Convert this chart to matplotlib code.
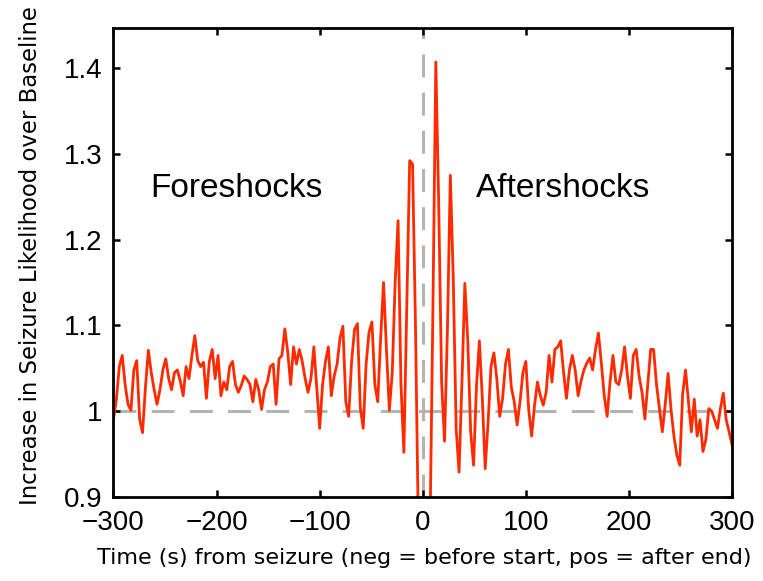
import numpy as np
import matplotlib
matplotlib.use("Agg")
import matplotlib.pyplot as plt

# Seizure likelihood relative to baseline, ~2.8 s bins from -300 s to +300 s
likelihood = [
    0.991, 1.014, 1.052, 1.065, 1.031, 1.008, 1.001, 1.048, 1.059, 0.991,
    0.975, 1.028, 1.071, 1.045, 1.025, 1.008, 1.025, 1.048, 1.061, 1.038,
    1.025, 1.045, 1.048, 1.035, 1.018, 1.052, 1.038, 1.065, 1.088, 1.059,
    1.052, 1.057, 1.015, 1.058, 1.072, 1.038, 1.065, 1.018, 1.034, 1.025,
    1.052, 1.058, 1.031, 1.022, 1.030, 1.041, 1.037, 1.031, 1.011, 1.037,
    1.025, 1.002, 1.025, 1.034, 1.052, 1.055, 1.008, 1.061, 1.065, 1.096,
    1.069, 1.031, 1.075, 1.055, 1.072, 1.058, 1.038, 1.022, 1.038, 1.075,
    1.028, 0.980, 1.031, 1.058, 1.075, 1.018, 1.041, 1.055, 1.085, 1.099,
    1.011, 0.994, 1.058, 1.095, 1.102, 1.004, 0.980, 1.055, 1.092, 1.104,
    1.031, 1.011, 1.085, 1.150, 1.072, 1.001, 1.045, 1.150, 1.222, 1.031,
    0.952, 1.120, 1.292, 1.288, 1.099, 0.860, 0.820, 0.800, 0.820, 0.860,
    1.119, 1.407, 1.241, 1.034, 0.965, 1.095, 1.275, 1.156, 0.980, 0.929,
    1.034, 1.149, 1.082, 0.976, 0.937, 1.029, 1.082, 1.016, 0.933, 0.987,
    1.052, 1.068, 1.038, 0.994, 1.015, 1.055, 1.072, 1.028, 1.011, 0.984,
    1.011, 1.045, 1.058, 1.001, 0.971, 1.007, 1.034, 1.018, 1.007, 1.022,
    1.065, 1.034, 1.072, 1.075, 1.082, 1.045, 1.015, 1.048, 1.065, 1.048,
    1.018, 1.035, 1.048, 1.056, 1.062, 1.048, 1.072, 1.091, 1.056, 1.018,
    0.994, 1.034, 1.065, 1.034, 1.031, 1.048, 1.075, 1.041, 1.015, 1.065,
    1.072, 1.041, 1.022, 0.991, 1.031, 1.072, 1.072, 1.031, 1.004, 0.976,
    1.008, 1.044, 1.002, 0.971, 0.949, 0.937, 1.020, 1.048, 1.011, 0.976,
    1.014, 0.971, 0.990, 0.953, 0.967, 1.003, 1.000, 0.990, 0.980, 1.003,
    1.021, 0.990, 0.976, 0.961,
]
time_s = np.linspace(-300, 300, len(likelihood))

x_ticks = [-300, -200, -100, 0, 100, 200, 300]
y_ticks = [0.9, 1.0, 1.1, 1.2, 1.3, 1.4]
y_tick_labels = ["0.9", "1", "1.1", "1.2", "1.3", "1.4"]
baseline = 1.0
seizure_time = 0.0

W, H = 763, 581
fig = plt.figure(figsize=(W / 100, H / 100), dpi=100)
ax = fig.add_axes([113.5 / W, 1 - 497 / H, (732 - 113.5) / W, (497 - 28) / H])

grey = "#b4b4b4"
ax.axhline(baseline, color=grey, lw=2.2, dashes=(7.5, 5), zorder=1)
ax.axvline(seizure_time, color=grey, lw=2.2, dashes=(7.5, 5), zorder=1)
ax.plot(time_s, likelihood, color="#ff2a00", lw=2.0, zorder=2)

ax.set_xlim(-300, 300)
ax.set_ylim(0.9, 1.4466)
ax.set_xticks(x_ticks)
ax.set_xticklabels([f"{v:d}".replace("-", "\u2212") for v in x_ticks])
ax.set_yticks(y_ticks)
ax.set_yticklabels(y_tick_labels)

tick_font = "Liberation Sans"
for lab in ax.get_xticklabels() + ax.get_yticklabels():
    lab.set_fontfamily(tick_font)
    lab.set_fontsize(20)
ax.tick_params(direction="in", length=5, width=1.8, top=True, right=True)
ax.tick_params(axis="x", pad=9)
ax.tick_params(axis="y", pad=8)
for s in ax.spines.values():
    s.set_linewidth(2.0)

ax.text(-264.5, 1.259, "Foreshocks", fontsize=24, family=tick_font,
        ha="left", va="center")
ax.text(51.5, 1.259, "Aftershocks", fontsize=24, family=tick_font,
        ha="left", va="center")

fig.text(424 / W, 1 - 558 / H,
         "Time (s) from seizure (neg = before start, pos = after end)",
         fontsize=16.0, family="DejaVu Sans", ha="center", va="center")
fig.text(31 / W, 1 - 256 / H,
         "Increase in Seizure Likelihood over Baseline",
         fontsize=16.4, family="DejaVu Sans", ha="center", va="center",
         rotation=90)

fig.savefig("out.png", dpi=100)
